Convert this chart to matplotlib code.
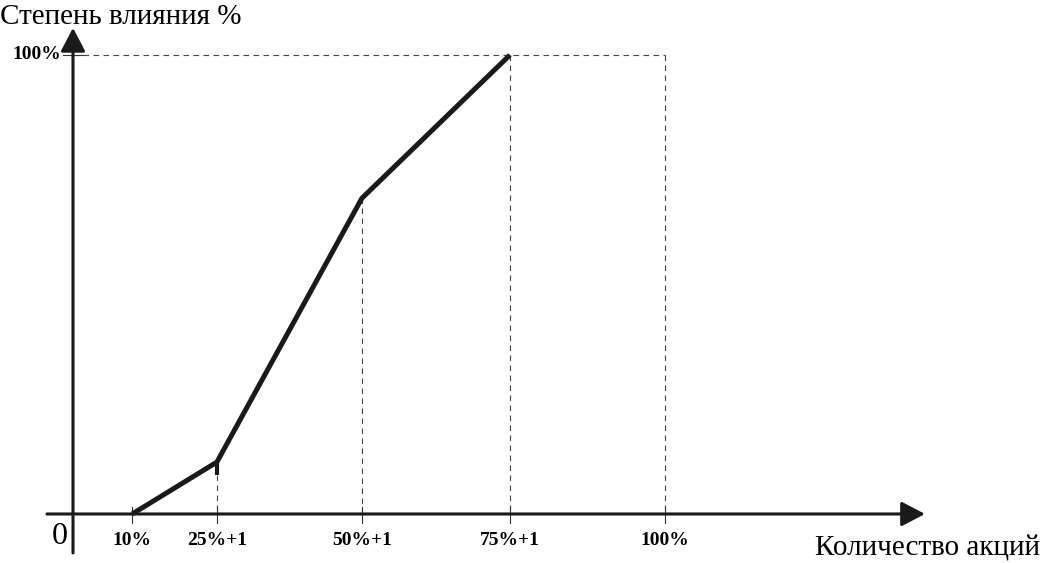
import numpy as np
import matplotlib
matplotlib.use("Agg")
import matplotlib.pyplot as plt

plt.rcParams['font.family'] = ['Liberation Serif', 'DejaVu Serif']

# points of the influence curve (share of stock -> degree of influence)
shares = [10, 24.3, 48.8, 73.8]
influence = [0, 11.3, 68.8, 100]
tick_pos = [10, 24.3, 48.8, 73.8, 100]
tick_lbl = ['10%', '25%+1', '50%+1', '75%+1', '100%']
notch_low = 8.5   # small vertical stub at 25%+1

fig = plt.figure(figsize=(10.41, 5.63), dpi=100)
ax = fig.add_axes([0, 0, 1, 1])
ax.set_xlim(-12.33, 163.5)
ax.set_ylim(-10.68, 111.98)
ax.axis('off')

# axes with arrows
ax.annotate('', xy=(143.9, 0), xytext=(-4.4, 0),
            arrowprops=dict(arrowstyle='-|>,head_length=0.8,head_width=0.42',
                            mutation_scale=18, lw=2.2, color='#1a1a1a',
                            shrinkA=0, shrinkB=0))
ax.annotate('', xy=(0, 105.9), xytext=(0, -8.5),
            arrowprops=dict(arrowstyle='-|>,head_length=0.8,head_width=0.42',
                            mutation_scale=18, lw=2.2, color='#1a1a1a',
                            shrinkA=0, shrinkB=0))

# dashed guides
dash = dict(color='#444444', lw=0.8, ls=(0, (5, 4)))
ax.plot([0, 100], [100, 100], **dash)
ax.plot([100, 100], [100, 0], **dash)
ax.plot([shares[3], shares[3]], [influence[3], 0], **dash)
ax.plot([shares[2], shares[2]], [influence[2], 0], **dash)
ax.plot([shares[1], shares[1]], [notch_low, 0], **dash)

# small ticks
for t in tick_pos:
    ax.plot([t, t], [1.6, -2.0], color='#333333', lw=0.8)
ax.plot([-1.7, 1.7], [100, 100], color='#333333', lw=0.8)

# main curve
ax.plot(shares, influence, color='#1a1a1a', lw=3.6, solid_joinstyle='miter',
        solid_capstyle='butt')
ax.plot([shares[1], shares[1]], [influence[1], notch_low], color='#1a1a1a',
        lw=3.0, solid_capstyle='butt')

for t, l in zip(tick_pos, tick_lbl):
    ax.text(t, -5.8, l, ha='center', va='center', fontsize=14, fontweight='bold')
ax.text(-2.0, 100, '100%', ha='right', va='center', fontsize=14, fontweight='bold')
ax.text(-0.9, -4.8, '0', ha='right', va='center', fontsize=23)

fig.text(0.0, 0.993, 'Степень влияния %', ha='left', va='top', fontsize=21)
fig.text(0.999, 0.003, 'Количество акций', ha='right', va='bottom', fontsize=21)

fig.savefig('out.png', dpi=100)
